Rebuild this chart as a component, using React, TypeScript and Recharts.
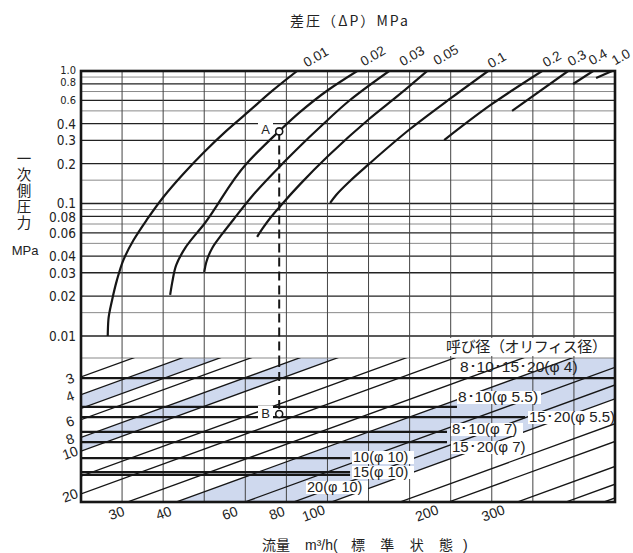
import React from "react";
import { ComposedChart, Line, Area, XAxis, YAxis, ReferenceLine, ReferenceDot } from "recharts";

const SANS = "'Liberation Sans', Arial, sans-serif";
const NARROW = "'Liberation Sans Narrow', 'DejaVu Sans Condensed', 'Liberation Sans', sans-serif";
const JP = "'Noto Sans CJK JP', 'Noto Sans', sans-serif";

// x: flow read on the bottom edge (m3/h), log scale shared by both panels
const X_MIN = 22.8;
const X_MAX = 534;
// upper panel: primary pressure (MPa)
const P_MIN = 0.00682;
const P_MAX = 1;
// lower panel: size factor, 1 on the bottom edge
const K_MIN = 0.0967;
const K_MAX = 1;

const pressureTicks = [1, 0.8, 0.6, 0.4, 0.3, 0.2, 0.1, 0.08, 0.06, 0.04, 0.03, 0.02, 0.01];
const pressureMinor = [0.9, 0.7, 0.5, 0.15, 0.09, 0.07, 0.05, 0.015];

// differential pressure curves, {x: flow, p: primary pressure}
const dp001 = [
  { x: 26.7, p: 0.01 }, { x: 26.8, p: 0.0132 }, { x: 27.4, p: 0.0187 }, { x: 28.2, p: 0.0265 },
  { x: 29.3, p: 0.0375 }, { x: 31.1, p: 0.053 }, { x: 33.6, p: 0.0751 }, { x: 37.1, p: 0.112 },
  { x: 41.7, p: 0.167 }, { x: 47.2, p: 0.245 }, { x: 53.7, p: 0.352 }, { x: 61.2, p: 0.491 },
  { x: 70.5, p: 0.707 }, { x: 81.7, p: 1 },
];
const dp002 = [
  { x: 38.6, p: 0.0204 }, { x: 39.1, p: 0.0256 }, { x: 40.0, p: 0.0343 }, { x: 42.2, p: 0.0462 },
  { x: 47.2, p: 0.07 }, { x: 60.5, p: 0.199 }, { x: 73.5, p: 0.352 }, { x: 83.2, p: 0.491 },
  { x: 98.1, p: 0.719 }, { x: 116.5, p: 1 },
];
const dp003 = [
  { x: 47.2, p: 0.0304 }, { x: 47.8, p: 0.0362 }, { x: 49.5, p: 0.0462 }, { x: 52.5, p: 0.0589 },
  { x: 56.0, p: 0.0751 }, { x: 63.0, p: 0.116 }, { x: 75.2, p: 0.202 }, { x: 83.2, p: 0.272 },
  { x: 93.6, p: 0.378 }, { x: 111.7, p: 0.604 }, { x: 140.7, p: 1 },
];
const dp005 = [
  { x: 64.5, p: 0.0559 }, { x: 66.5, p: 0.0642 }, { x: 69.7, p: 0.0777 }, { x: 75.2, p: 0.101 },
  { x: 83.2, p: 0.14 }, { x: 98.1, p: 0.228 }, { x: 125.0, p: 0.434 }, { x: 150.1, p: 0.671 },
  { x: 176.1, p: 1 },
];
const dp01 = [
  { x: 99.3, p: 0.101 }, { x: 102.9, p: 0.116 }, { x: 111.7, p: 0.148 }, { x: 125.0, p: 0.199 },
  { x: 159.2, p: 0.365 }, { x: 202.9, p: 0.626 }, { x: 252.4, p: 1 },
];
const dp02 = [{ x: 194.7, p: 0.301 }, { x: 258.4, p: 0.564 }, { x: 347.2, p: 1 }];
const dp03 = [{ x: 290.8, p: 0.5 }, { x: 404.8, p: 1 }];
const dp04 = [{ x: 416.9, p: 0.798 }, { x: 469.3, p: 1 }];
const dp10 = [{ x: 477.6, p: 0.885 }, { x: 524.8, p: 1 }];
const dpCurves = [dp001, dp002, dp003, dp005, dp01, dp02, dp03, dp04, dp10];

// lower panel: lines of equal flow (m3/h) and shaded ranges
const flowLines = [3, 4, 5, 6, 8, 10, 15, 20, 30, 40, 60, 80, 100, 150, 200, 300, 400, 500];
const flowBands = [[4, 5], [8, 10], [40, 100]];
const bottomFlowTicks = [30, 40, 60, 80, 100, 200, 300];
const sideFlowTicks = [3, 4, 6, 8, 10, 20];

// nominal size lines (size factor, end of line on the flow axis)
const valveK = [0.134, 0.214, 0.252, 0.321, 0.378, 0.49, 0.615, 0.645];
const valveEnd = [X_MAX, 210, 314, 198, 198, 111.7, 111.7, 111.7];
const valveNames = ["8･10･15･20(φ 4)", "8･10(φ 5.5)", "15･20(φ 5.5)", "8･10(φ 7)", "15･20(φ 7)", "10(φ 10)", "15(φ 10)", "20(φ 10)"];

const pointA = { x: 73.5, p: 0.35 };
const pointB = { x: 73.5, k: 0.24 };

const gridX = Array.from({ length: 12 }, (_, i) => X_MIN * Math.pow(X_MAX / X_MIN, (i + 1) / 13));

const INK = "#161616";
const BAND = "#cfd9ee";

function PressureTick(props: any) {
  const { y, payload } = props;
  const v = payload.value;
  const top = v >= 0.6;
  const dy = v === 0.8 ? -1 : v === 1 ? -0.5 : v === 0.1 ? -0.5 : v === 0.08 ? 0.5 : 0;
  return (
    <text x={76} y={y + dy} textAnchor="end" dominantBaseline="central" fontFamily={NARROW} fontSize={top ? 11 : 13.5} fill="#222">
      {v === 1 ? "1.0" : String(v)}
    </text>
  );
}

function BottomFlowTick(props: any) {
  const { x, payload } = props;
  const cx = x - 11 - (x - 127) * 0.034;
  return (
    <text transform={`translate(${cx},513) rotate(-20)`} textAnchor="middle" dominantBaseline="central" fontFamily={SANS} fontSize={14} fill="#222">
      {payload.value}
    </text>
  );
}

function SideFlowTick(props: any) {
  const { y, payload } = props;
  const f = Math.round(payload.value * X_MIN);
  return (
    <text transform={`translate(70,${y + 1.5}) rotate(-20)`} textAnchor="middle" dominantBaseline="central" fontFamily={SANS} fontSize={14} fill="#222">
      {f}
    </text>
  );
}

const dpLabels = [
  { t: "0.01", x: 316, y: 57 }, { t: "0.02", x: 373, y: 56 }, { t: "0.03", x: 412, y: 56 },
  { t: "0.05", x: 446, y: 55 }, { t: "0.1", x: 497, y: 60 }, { t: "0.2", x: 552, y: 59 },
  { t: "0.3", x: 577, y: 58 }, { t: "0.4", x: 598, y: 57 }, { t: "1.0", x: 621, y: 57 },
];

// label placement (left, baseline, white backing width or 0, font size)
const valveLabelPos = [
  { x: 460, y: 372, w: 0, s: 15.5 }, { x: 458, y: 402, w: 84, s: 15.5 }, { x: 529, y: 422, w: 82, s: 15 },
  { x: 452, y: 434, w: 72, s: 15 }, { x: 452, y: 452, w: 80, s: 15 }, { x: 353, y: 462, w: 62, s: 14.5 },
  { x: 353, y: 477, w: 62, s: 14.5 }, { x: 307, y: 492, w: 62, s: 14.5 },
];

export default function App() {
  return (
    <div style={{ position: "absolute", left: 0, top: 0, width: 633, height: 553, background: "#fff" }}>
      <div style={{ position: "absolute", left: 0, top: 0 }}>
        <ComposedChart width={633} height={553} margin={{ top: 358, right: 18, bottom: 21, left: 0 }}>
          <XAxis type="number" dataKey="x" scale="log" domain={[X_MIN, X_MAX]} allowDataOverflow ticks={bottomFlowTicks} tick={<BottomFlowTick />} interval={0} height={30} axisLine={false} tickLine={false} />
          <YAxis type="number" scale="log" domain={[K_MIN, K_MAX]} reversed allowDataOverflow ticks={sideFlowTicks.map((f) => f / X_MIN)} tick={<SideFlowTick />} interval={0} width={81} axisLine={false} tickLine={false} />
          {flowBands.map(([a, b], i) => (
            <Area
              key={`band-${i}`}
              data={[{ x: X_MIN, r: [a / X_MIN, b / X_MIN] }, { x: X_MAX, r: [a / X_MAX, b / X_MAX] }]}
              dataKey="r"
              type="linear"
              stroke="none"
              fill={BAND}
              fillOpacity={1}
              isAnimationActive={false}
            />
          ))}
          {gridX.map((x, i) => (
            <ReferenceLine key={`gx-${i}`} x={x} stroke="#444" strokeWidth={1} />
          ))}
          <ReferenceLine y={K_MIN} stroke="#8a8a8a" strokeWidth={1.2} />
          {flowLines.map((f) => (
            <Line
              key={`flow-${f}`}
              data={[{ x: X_MIN, k: f / X_MIN }, { x: X_MAX, k: f / X_MAX }]}
              dataKey="k"
              type="linear"
              dot={false}
              stroke={INK}
              strokeWidth={1.3}
              isAnimationActive={false}
            />
          ))}
          {valveK.map((k, i) => (
            <Line
              key={`valve-${i}`}
              data={[{ x: X_MIN, k }, { x: valveEnd[i], k }]}
              dataKey="k"
              type="linear"
              dot={false}
              stroke={INK}
              strokeWidth={2.3}
              isAnimationActive={false}
            />
          ))}
          <ReferenceLine segment={[{ x: pointB.x, y: K_MIN }, { x: pointB.x, y: pointB.k }]} stroke={INK} strokeWidth={2} strokeDasharray="9 5" />
          <ReferenceDot x={pointB.x} y={pointB.k} r={3.5} fill="#fff" stroke={INK} strokeWidth={1.6} />
        </ComposedChart>
      </div>
      <div style={{ position: "absolute", left: 0, top: 0 }}>
        <ComposedChart width={633} height={553} margin={{ top: 71, right: 18, bottom: 195, left: 0 }}>
          <XAxis type="number" dataKey="x" scale="log" domain={[X_MIN, X_MAX]} allowDataOverflow hide />
          <YAxis type="number" scale="log" domain={[P_MIN, P_MAX]} allowDataOverflow ticks={pressureTicks} tick={<PressureTick />} interval={0} width={81} axisLine={false} tickLine={false} />
          {pressureMinor.map((p) => (
            <ReferenceLine key={`pm-${p}`} y={p} stroke="#8a8a8a" strokeWidth={1} />
          ))}
          {pressureTicks.filter((p) => p < 1).map((p) => (
            <ReferenceLine key={`pt-${p}`} y={p} stroke="#222" strokeWidth={1.3} />
          ))}
          {gridX.map((x, i) => (
            <ReferenceLine key={`gx-${i}`} x={x} stroke="#444" strokeWidth={1} />
          ))}
          {dpCurves.map((c, i) => (
            <Line key={`dp-${i}`} data={c} dataKey="p" type="monotoneY" dot={false} stroke={INK} strokeWidth={2.2} isAnimationActive={false} />
          ))}
          <ReferenceLine segment={[{ x: pointA.x, y: pointA.p }, { x: pointA.x, y: P_MIN }]} stroke={INK} strokeWidth={2} strokeDasharray="9 5" />
          <ReferenceDot x={pointA.x} y={pointA.p} r={3.5} fill="#fff" stroke={INK} strokeWidth={1.6} />
        </ComposedChart>
      </div>
      <svg width={633} height={553} style={{ position: "absolute", left: 0, top: 0 }}>
        <rect x={81} y={71} width={534} height={431} fill="none" stroke={INK} strokeWidth={2.6} />
        <text x={290} y={26} fontFamily={JP} fontSize={14} fill="#222" textLength={118}>差圧（ΔP）MPa</text>
        {dpLabels.map((d) => (
          <text key={d.t} transform={`translate(${d.x},${d.y}) rotate(-30)`} textAnchor="middle" dominantBaseline="central" fontFamily={SANS} fontSize={13.5} fill="#222">
            {d.t}
          </text>
        ))}
        <text x={24} y={151} fontFamily={JP} fontSize={14.5} fill="#222" style={{ writingMode: "vertical-rl", letterSpacing: "1.5px" }}>一次側圧力</text>
        <text x={25} y={250} textAnchor="middle" dominantBaseline="central" fontFamily={SANS} fontSize={13} fill="#222">MPa</text>
        <rect x={258} y={122} width={15} height={13} fill="#fff" />
        <text x={265.5} y={129} textAnchor="middle" dominantBaseline="central" fontFamily={SANS} fontSize={13} fill="#222">A</text>
        <rect x={258} y={406} width={15} height={13} fill="#fff" />
        <text x={265.5} y={413} textAnchor="middle" dominantBaseline="central" fontFamily={SANS} fontSize={13} fill="#222">B</text>
        <rect x={445} y={338} width={164} height={18} fill="#fff" />
        <text x={446} y={352} fontFamily={JP} fontSize={15} fill="#222" textLength={161}>呼び径（オリフィス径）</text>
        {valveNames.map((n, i) => {
          const pos = valveLabelPos[i];
          return (
            <g key={n}>
              {pos.w > 0 && <rect x={pos.x - 1} y={pos.y - 11} width={pos.w} height={13} fill="#fff" />}
              <text x={pos.x} y={pos.y} fontFamily={SANS} fontSize={pos.s} fill="#222">
                {n}
              </text>
            </g>
          );
        })}
        <text x={262} y={550} fontFamily={JP} fontSize={14} fill="#222">流量</text>
        <text x={305} y={550} fontFamily={SANS} fontSize={14} fill="#222">m³/h(</text>
        <text x={351} y={550} fontFamily={JP} fontSize={14} fill="#222" textLength={102}>標準状態</text>
        <text x={463} y={550} fontFamily={SANS} fontSize={14} fill="#222">)</text>
      </svg>
    </div>
  );
}
